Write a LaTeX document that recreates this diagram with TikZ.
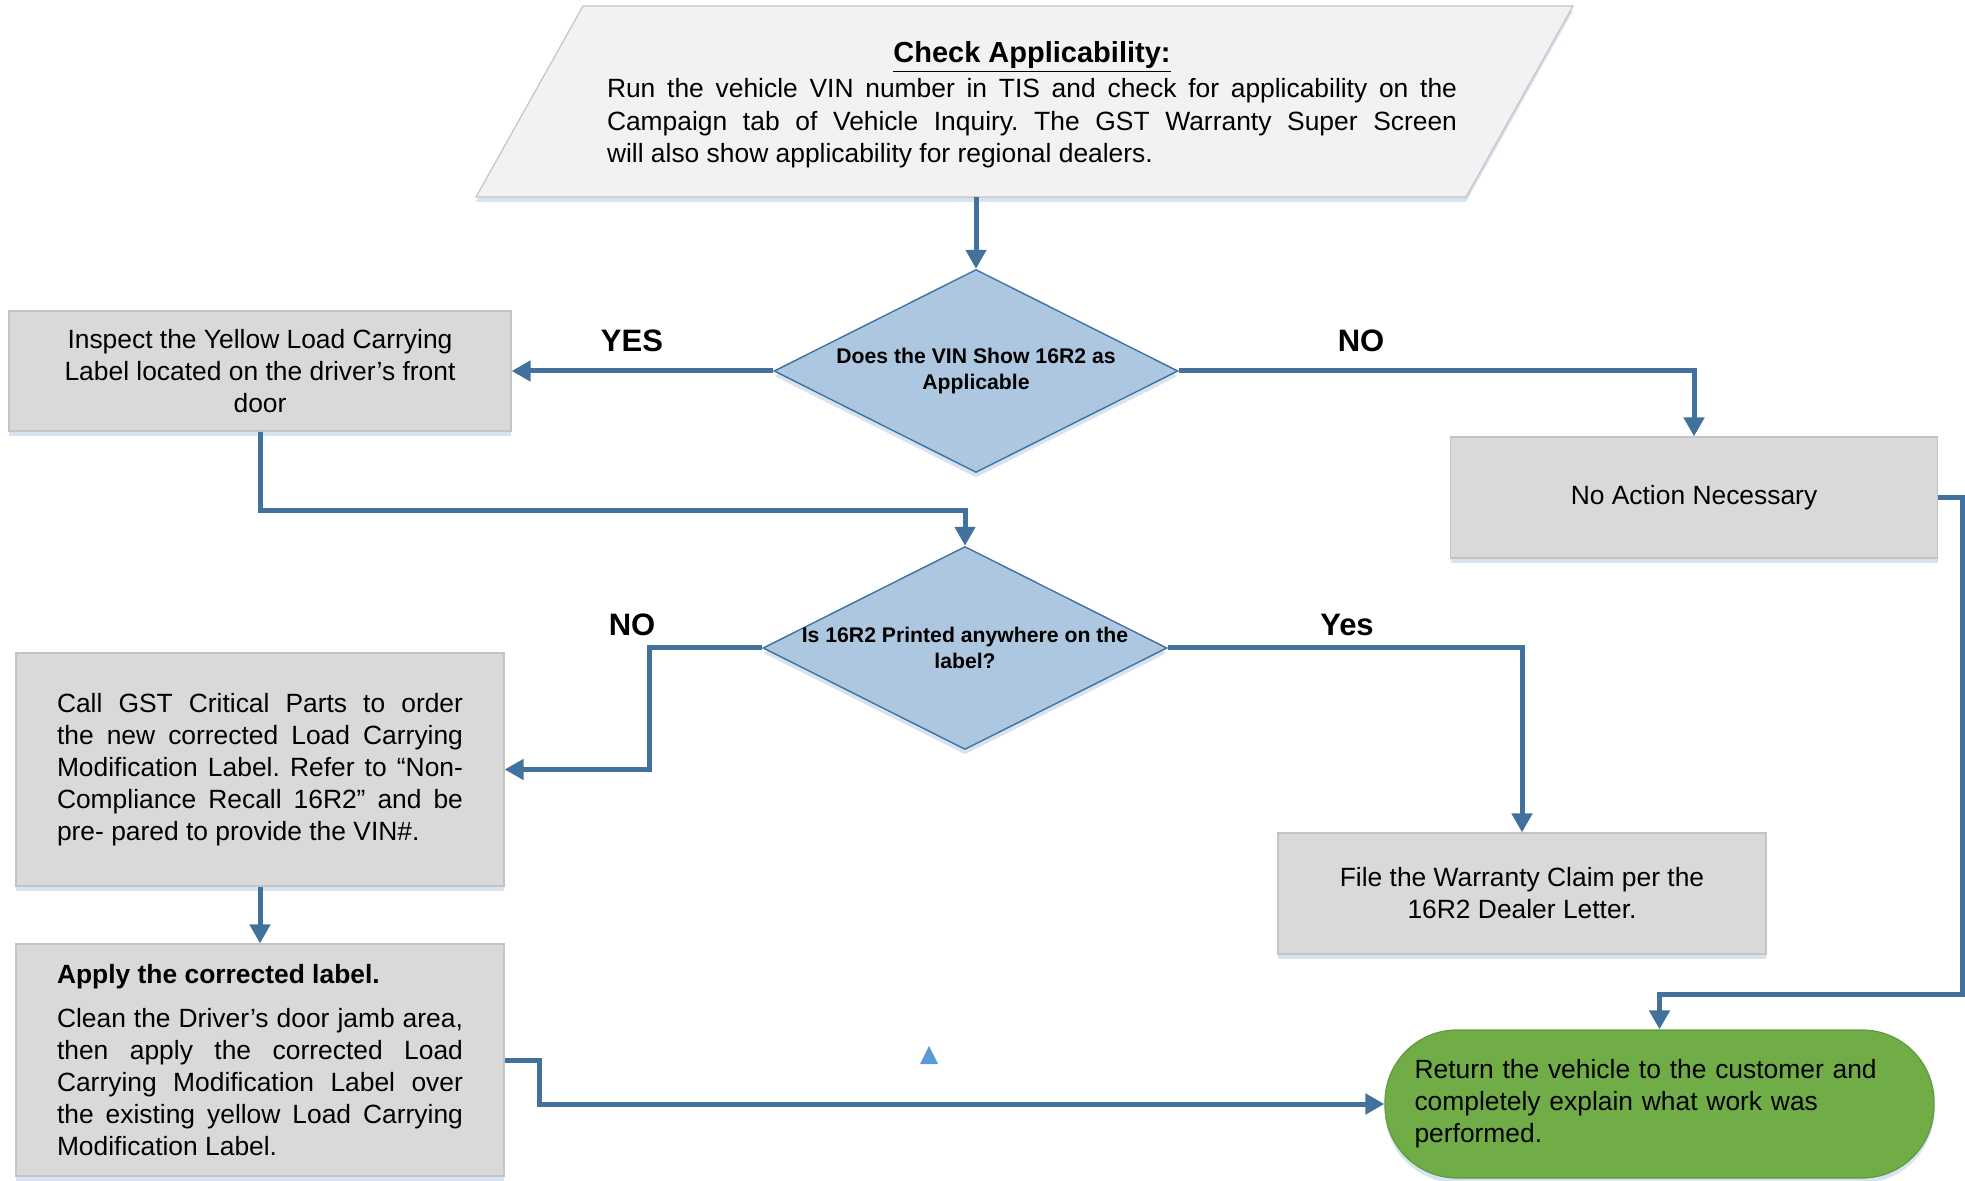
\documentclass[tikz,border=0pt]{standalone}
\usepackage{fontspec}
\setmainfont{Liberation Sans}
\usetikzlibrary{shapes.geometric,arrows.meta,shadows}
\definecolor{conn}{HTML}{41719C}
\definecolor{boxfill}{HTML}{D9D9D9}
\definecolor{boxline}{HTML}{C4C4C4}
\definecolor{parfill}{HTML}{F2F2F2}
\definecolor{decfill}{HTML}{ADC7E0}
\definecolor{shadowc}{HTML}{D3E0EF}
\definecolor{termfill}{HTML}{70AD47}
\definecolor{termline}{HTML}{5F9A3C}
\definecolor{tric}{HTML}{5B9BD5}
\frenchspacing
\begin{document}
\frenchspacing
\begin{tikzpicture}[x=0.5pt,y=-0.5pt,
  shad/.style={drop shadow={shadow xshift=0pt,shadow yshift=-2.5pt,fill=shadowc,opacity=0.9}},
  box/.style={draw=boxline,line width=0.6pt,fill=boxfill,shad,
    font=\fontsize{13.2}{16}\selectfont,align=center,inner sep=0pt},
  dec/.style={diamond,draw=conn,line width=0.7pt,fill=decfill,shad,inner sep=0pt,
    minimum width=202pt,minimum height=101.5pt},
  dtext/.style={font=\fontsize{10.6}{13}\selectfont\bfseries,align=center,inner sep=0pt},
  term/.style={draw=termline,line width=0.6pt,fill=termfill,rounded corners=36pt,shad,
    minimum width=274.5pt,minimum height=74pt,text width=245pt,align=left,
    font=\fontsize{13.2}{16}\selectfont,inner sep=0pt},
  arr/.style={draw=conn,line width=2.5pt,-{Triangle[length=9.5pt,width=10pt]}},
  lbl/.style={font=\fontsize{15.5}{18}\selectfont\bfseries,inner sep=0pt}]
\useasboundingbox (0,0) rectangle (1965,1181);

% start parallelogram
\path[draw=boxline,line width=0.6pt,fill=parfill,shad]
  (583,6) -- (1573,6) -- (1466,197) -- (476,197) -- cycle;
\node[text width=425pt,align=justify,inner sep=0pt,
      font=\fontsize{13.2}{16.3}\selectfont] (check) at (1032,105)
  {{\centering\fontsize{14.5}{17.5}\selectfont\bfseries\underline{Check Applicability:}\par}\vspace{1pt}
   Run the vehicle VIN number in TIS and check for applicability on the\linebreak
   Campaign tab of Vehicle Inquiry. The GST Warranty Super Screen\linebreak
   will also show applicability for regional dealers.};
\coordinate (pbot) at (976,197);

% decisions
\node[dec,label={[dtext]center:{Does the VIN Show 16R2 as\\Applicable}}] (d1) at (976,371) {};
\node[dec,label={[dtext]center:{Is 16R2 Printed anywhere on the\\label?}}] (d2) at (965,648) {};

% process boxes
\node[box,minimum width=251pt,minimum height=60pt] (insp) at (260,371)
  {Inspect the Yellow Load Carrying\\Label located on the driver’s front\\door};
\node[box,minimum width=243.5pt,minimum height=60.5pt] (noact) at (1694,497.5)
  {No Action Necessary};
\node[box,minimum width=244pt,minimum height=116.5pt,text width=203pt,align=justify] (call) at (260,769.5)
  {Call GST Critical Parts to order\linebreak
   the new corrected Load Carrying\linebreak
   Modification Label. Refer to “Non-\linebreak
   Compliance Recall 16R2” and be\linebreak
   pre- pared to provide the VIN\#.};
\node[box,minimum width=244pt,minimum height=116pt,text width=203pt,align=justify] (apply) at (260,1060)
  {\textbf{Apply the corrected label.}\par\vspace{6pt}
   Clean the Driver's door jamb area,\linebreak
   then apply the corrected Load\linebreak
   Carrying Modification Label over\linebreak
   the existing yellow Load Carrying\linebreak
   Modification Label.};
\node[box,minimum width=244pt,minimum height=60.5pt] (file) at (1522,893.5)
  {File the Warranty Claim per the\\16R2 Dealer Letter.};
\node[term] (ret) at (1659.5,1104)
  {Return the vehicle to the customer and\\completely explain what work was\\performed.};

% labels
\node[lbl] (yes1) at (632,341) {YES};
\node[lbl] (no1) at (1361,341) {NO};
\node[lbl] (no2) at (632,625) {NO};
\node[lbl] (yes2) at (1347,625) {Yes};

% connectors
\draw[arr] (pbot) -- (d1.north);
\draw[arr] (d1.west) -- (insp.east);
\draw[arr] (d1.east) -| (noact.north);
\draw[arr] (insp.south) -- ++(0,79) -| (d2.north);
\draw[arr] (d2.west) -- ++(-113,0) |- (call.east);
\draw[arr] (d2.east) -| (file.north);
\draw[arr] (call.south) -- (apply.north);
\draw[arr] (apply.east) -- ++(35,0) |- (ret.west);
\draw[arr] (noact.east) -- ++(24,0) |- ([yshift=17.5pt]ret.north) -- (ret.north);

% stray small triangle
\fill[tric] (920,1064) -- (929,1046) -- (938,1064) -- cycle;
\end{tikzpicture}
\end{document}
